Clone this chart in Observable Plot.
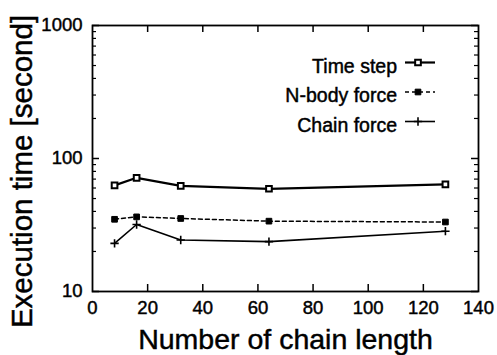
<!DOCTYPE html>
<html>
<head>
<meta charset="utf-8">
<script src="https://cdn.jsdelivr.net/npm/d3@7"></script>
<script src="https://cdn.jsdelivr.net/npm/@observablehq/plot@0.6"></script>
<style>
  html, body { margin: 0; padding: 0; background: #fff; }
  #wrap { position: relative; width: 497px; height: 355px; font-family: "Liberation Sans", Arial, Helvetica, sans-serif; }
  #legend { position: absolute; left: 0; top: 0; }
  svg text { stroke: #000; stroke-width: 0.45px; }
</style>
</head>
<body>
<div id="wrap"></div>
<script>
// ---- data ----
const chainLength = [8, 16, 32, 64, 128];
const timeStep    = [62.8, 71.6, 62.3, 59.2, 63.9];
const nbodyForce  = [34.9, 36.4, 35.4, 33.8, 33.3];
const chainForce  = [23.0, 31.9, 24.4, 23.7, 28.4];
const seriesNames = ["Time step", "N-body force", "Chain force"];
const xTicks = [0, 20, 40, 60, 80, 100, 120, 140];
const yTicks = [10, 100, 1000];
const yMinor = [20, 30, 40, 50, 60, 70, 80, 90, 200, 300, 400, 500, 600, 700, 800, 900];
const xLabel = "Number of chain length";
const yLabel = "Execution time [second]";

const rows = (vals, name) => chainLength.map((x, i) => ({x, y: vals[i], s: name}));
const dTime = rows(timeStep, seriesNames[0]);
const dNbody = rows(nbodyForce, seriesNames[1]);
const dChain = rows(chainForce, seriesNames[2]);

const W = 497, H = 355;
const mL = 92, mR = 19, mT = 25, mB = 64;
const fw = W - mL - mR, fh = H - mT - mB;
const innerX = xTicks.slice(1, -1);
const SQ_R = 3.2, PLUS_R = 2.8;

const chart = Plot.plot({
  width: W, height: H,
  marginLeft: mL, marginRight: mR, marginTop: mT, marginBottom: mB,
  style: {fontFamily: '"Liberation Sans", Arial, Helvetica, sans-serif', background: "#fff", color: "#000"},
  x: {domain: [0, 140]},
  y: {type: "log", domain: [10, 1000]},
  marks: [
    // inward ticks on all four sides
    Plot.tickX(innerX, {x: d => d, insetTop: fh - 7, stroke: "#000", strokeWidth: 1.5}),
    Plot.tickX(innerX, {x: d => d, insetBottom: fh - 7, stroke: "#000", strokeWidth: 1.5}),
    Plot.tickY(yTicks, {y: d => d, insetRight: fw - 7, stroke: "#000", strokeWidth: 1.5}),
    Plot.tickY(yTicks, {y: d => d, insetLeft: fw - 7, stroke: "#000", strokeWidth: 1.5}),
    Plot.tickY(yMinor, {y: d => d, insetRight: fw - 4, stroke: "#000", strokeWidth: 1.2}),
    Plot.tickY(yMinor, {y: d => d, insetLeft: fw - 4, stroke: "#000", strokeWidth: 1.2}),
    Plot.frame({stroke: "#000", strokeWidth: 1.8}),
    Plot.axisX({ticks: xTicks, tickSize: 0, tickPadding: 9, fontSize: 18.5, label: null, tickFormat: d => String(d)}),
    Plot.axisY({ticks: yTicks, tickSize: 0, tickPadding: 10, fontSize: 18.5, label: null, tickFormat: d => String(d)}),
    Plot.text([xLabel], {frameAnchor: "bottom", lineAnchor: "bottom", dy: 57, fontSize: 28.5, text: d => d}),
    Plot.text([yLabel], {frameAnchor: "left", textAnchor: "middle", lineAnchor: "middle", rotate: -90, dx: -70, dy: 13, fontSize: 29.5, text: d => d}),
    // series
    Plot.line(dTime, {x: "x", y: "y", stroke: "#000", strokeWidth: 2.2}),
    Plot.dot(dTime, {x: "x", y: "y", symbol: "square", r: SQ_R, fill: "#fff", stroke: "#000", strokeWidth: 2}),
    Plot.line(dNbody, {x: "x", y: "y", stroke: "#000", strokeWidth: 1.5, strokeDasharray: "4,3"}),
    Plot.dot(dNbody, {x: "x", y: "y", symbol: "square", r: SQ_R, fill: "#000", stroke: "#000", strokeWidth: 1}),
    Plot.line(dChain, {x: "x", y: "y", stroke: "#000", strokeWidth: 1.6}),
    Plot.dot(dChain, {x: "x", y: "y", symbol: "plus", r: PLUS_R, stroke: "#000", strokeWidth: 1.6})
  ]
});

const wrap = document.getElementById("wrap");
wrap.appendChild(chart);

// legend overlay (inside the frame, top-right)
const lg = d3.select(wrap).append("svg").attr("id", "legend")
  .attr("width", W).attr("height", H)
  .style("font-family", '"Liberation Sans", Arial, Helvetica, sans-serif');
const styles = [
  {dash: null, sw: 2.2, sym: "square", fill: "#fff", ssw: 2, r: SQ_R},
  {dash: "4,3", sw: 1.5, sym: "square", fill: "#000", ssw: 1, r: SQ_R},
  {dash: null, sw: 1.6, sym: "plus", fill: "none", ssw: 1.6, r: PLUS_R}
];
const baseY = 72.5, step = 29.5, textRight = 397, lineX1 = 405, lineX2 = 435, symX = 418;
seriesNames.forEach((name, i) => {
  const y = baseY + i * step;
  const st = styles[i];
  lg.append("text").attr("x", textRight).attr("y", y).attr("text-anchor", "end")
    .attr("font-size", 19.5).attr("fill", "#000").text(name);
  const ly = y - 10;
  lg.append("line").attr("x1", lineX1).attr("x2", lineX2).attr("y1", ly).attr("y2", ly)
    .attr("stroke", "#000").attr("stroke-width", st.sw).attr("stroke-dasharray", st.dash);
  const sym = st.sym === "square" ? d3.symbolSquare : d3.symbolPlus;
  lg.append("path").attr("transform", `translate(${symX},${ly})`)
    .attr("d", d3.symbol(sym, Math.PI * st.r ** 2)())
    .attr("fill", st.fill).attr("stroke", "#000").attr("stroke-width", st.ssw);
});
</script>
</body>
</html>
